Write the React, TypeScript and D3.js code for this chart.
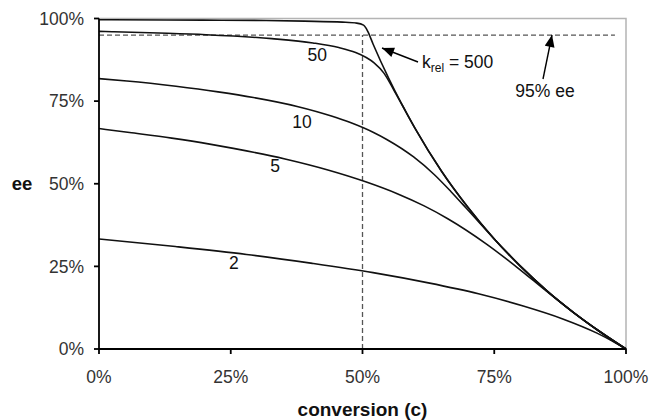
import React from "react";
import * as d3 from "d3";

// conversion (c) and ee values, per k_rel
const c2 = [0, 0.145, 0.28, 0.405, 0.52, 0.625, 0.72, 0.805, 0.88, 0.945, 0.974, 1];
const ee2 = [0.333, 0.31, 0.286, 0.259, 0.231, 0.2, 0.167, 0.13, 0.091, 0.048, 0.024, 0];

const c5 = [0, 0.058, 0.138, 0.21, 0.255, 0.353, 0.436, 0.506, 0.566, 0.617, 0.661, 0.734, 0.795, 0.849, 0.9, 0.95, 1];
const ee5 = [0.667, 0.655, 0.638, 0.62, 0.607, 0.575, 0.541, 0.506, 0.47, 0.433, 0.395, 0.319, 0.245, 0.175, 0.111, 0.053, 0];

const c10 = [0, 0.053, 0.146, 0.226, 0.293, 0.376, 0.441, 0.477, 0.521, 0.546, 0.597, 0.636, 0.668, 0.697, 0.75, 0.8, 0.85, 0.9, 0.95, 1];
const ee10 = [0.818, 0.811, 0.795, 0.778, 0.761, 0.734, 0.705, 0.685, 0.655, 0.634, 0.581, 0.528, 0.476, 0.426, 0.333, 0.25, 0.176, 0.111, 0.053, 0];

const c50 = [0, 0.025, 0.113, 0.203, 0.328, 0.406, 0.455, 0.487, 0.507, 0.522, 0.541, 0.559, 0.575, 0.6, 0.65, 0.7, 0.75, 0.8, 0.85, 0.9, 0.95, 1];
const ee50 = [0.961, 0.96, 0.956, 0.951, 0.939, 0.926, 0.912, 0.897, 0.882, 0.866, 0.834, 0.785, 0.739, 0.667, 0.538, 0.429, 0.333, 0.25, 0.176, 0.111, 0.053, 0];

const c500 = [0, 0.024, 0.197, 0.317, 0.39, 0.462, 0.489, 0.502, 0.507, 0.51, 0.52, 0.55, 0.6, 0.65, 0.7, 0.75, 0.8, 0.85, 0.9, 0.95, 1];
const ee500 = [0.996, 0.996, 0.995, 0.994, 0.992, 0.989, 0.986, 0.98, 0.97, 0.961, 0.923, 0.818, 0.667, 0.538, 0.429, 0.333, 0.25, 0.176, 0.111, 0.053, 0];

const seriesNames = ["2", "5", "10", "50", "500"];
const seriesC = [c2, c5, c10, c50, c500];
const seriesEE = [ee2, ee5, ee10, ee50, ee500];

const xTicks = [0, 0.25, 0.5, 0.75, 1];
const yTicks = [0, 0.25, 0.5, 0.75, 1];
const eeTarget = 0.95;
const cRef = 0.5;

// curve label anchors (data coords)
const labelText = ["2", "5", "10", "50"];
const labelC = [0.256, 0.334, 0.385, 0.414];
const labelEE = [0.26, 0.554, 0.687, 0.89];

const W = 651;
const H = 420;
const font = "'Liberation Sans', Arial, sans-serif";

export default function App() {
  const x = d3.scaleLinear().domain([0, 1]).range([99, 626]);
  const y = d3.scaleLinear().domain([0, 1]).range([349, 18.5]);
  const line = d3
    .line<[number, number]>()
    .x((d) => x(d[0]))
    .y((d) => y(d[1]))
    .curve(d3.curveMonotoneX);
  const fmt = d3.format(".0%");

  return (
    <svg width={W} height={H} style={{ position: "absolute", left: 0, top: 0 }} fontFamily={font}>
      <defs>
        <marker id="ah" viewBox="0 0 12 10" refX="12" refY="5" markerWidth="13" markerHeight="10" orient="auto" markerUnits="userSpaceOnUse">
          <path d="M0,0 L12,5 L0,10 z" fill="#000" />
        </marker>
      </defs>
      <rect x={0} y={0} width={W} height={H} fill="#fff" />
      {/* plot border top/right */}
      <path d={`M${x(0)},${y(1)} H${x(1)} V${y(0)}`} fill="none" stroke="#b4b4b4" strokeWidth={1.5} />
      {/* reference dashed lines */}
      <line x1={x(0)} x2={x(0.979)} y1={y(eeTarget)} y2={y(eeTarget)} stroke="#555" strokeWidth={1.3} strokeDasharray="5,3" />
      <line x1={x(cRef)} x2={x(cRef)} y1={y(0)} y2={y(eeTarget)} stroke="#555" strokeWidth={1.3} strokeDasharray="5,3" />
      {/* curves */}
      {seriesNames.map((n, i) => (
        <path
          key={n}
          d={line(seriesC[i].map((c, j) => [c, seriesEE[i][j]]) as [number, number][]) || ""}
          fill="none"
          stroke="#111"
          strokeWidth={1.6}
        />
      ))}
      {/* axes */}
      <line x1={x(0)} x2={x(0)} y1={y(0)} y2={y(1)} stroke="#000" strokeWidth={1.8} />
      <line x1={x(0)} x2={x(1)} y1={y(0)} y2={y(0)} stroke="#000" strokeWidth={1.8} />
      {yTicks.map((t) => (
        <g key={"y" + t}>
          <line x1={x(0) - 5} x2={x(0)} y1={y(t)} y2={y(t)} stroke="#000" strokeWidth={1.8} />
          <text x={84} y={y(t)} dy="0.35em" textAnchor="end" fontSize={17.5} fill="#333">
            {fmt(t)}
          </text>
        </g>
      ))}
      {xTicks.map((t) => (
        <g key={"x" + t}>
          <line x1={x(t)} x2={x(t)} y1={y(0)} y2={y(0) + 5} stroke="#000" strokeWidth={1.8} />
          <text x={x(t)} y={383} textAnchor="middle" fontSize={17.5} fill="#333">
            {fmt(t)}
          </text>
        </g>
      ))}
      <text x={x(0.5)} y={416} textAnchor="middle" fontSize={19} fontWeight="bold" fill="#111">
        conversion (c)
      </text>
      <text x={22} y={y(0.5)} dy="0.35em" textAnchor="middle" fontSize={18.5} fontWeight="bold" fill="#111">
        ee
      </text>
      {/* curve labels */}
      {labelText.map((t, i) => (
        <text key={"l" + t} x={x(labelC[i])} y={y(labelEE[i])} dy="0.35em" textAnchor="middle" fontSize={17.5} fill="#111">
          {t}
        </text>
      ))}
      {/* k_rel annotation */}
      <line x1={418} y1={62} x2={382} y2={48} stroke="#000" strokeWidth={1.4} markerEnd="url(#ah)" />
      <text x={422} y={68} fontSize={17.5} fill="#111">
        k<tspan fontSize={12} dy="4">rel</tspan>
        <tspan dy="-4"> = 500</tspan>
      </text>
      {/* 95% ee annotation */}
      <line x1={543} y1={79} x2={552} y2={35} stroke="#000" strokeWidth={1.4} markerEnd="url(#ah)" />
      <text x={545} y={97} textAnchor="middle" fontSize={17.5} fill="#111">
        95% ee
      </text>
    </svg>
  );
}
